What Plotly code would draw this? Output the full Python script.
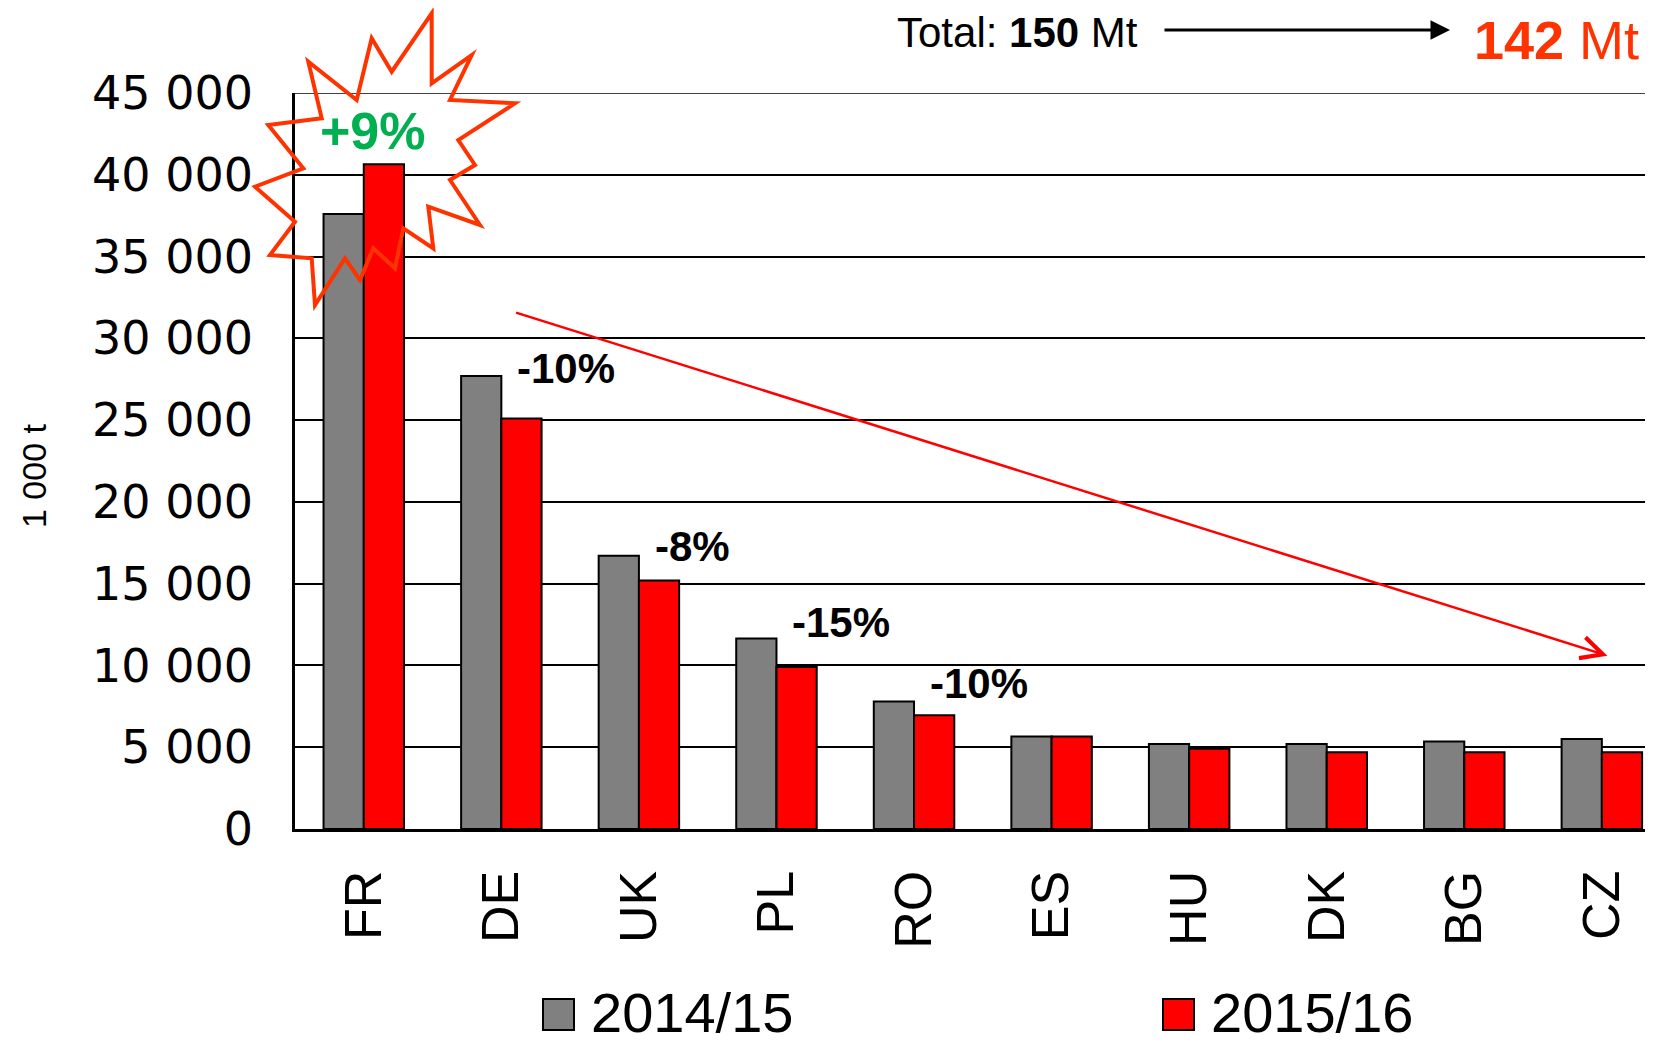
import plotly.graph_objects as go

# ---------------- data ----------------
countries = ["FR", "DE", "UK", "PL", "RO", "ES", "HU", "DK", "BG", "CZ"]
series_names = ["2014/15", "2015/16"]
values_2014 = [37600, 27700, 16700, 11650, 7800, 5650, 5200, 5200, 5350, 5500]
values_2015 = [40650, 25100, 15200, 9900, 6950, 5650, 4900, 4700, 4700, 4700]
y_tick_vals = [0, 5000, 10000, 15000, 20000, 25000, 30000, 35000, 40000, 45000]
y_tick_text = ["0", "5 000", "10 000", "15 000", "20 000", "25 000",
               "30 000", "35 000", "40 000", "45 000"]
change_countries = ["DE", "UK", "PL", "RO"]
change_labels = ["-10%", "-8%", "-15%", "-10%"]
fr_change_label = "+9%"
y_title = "1 000 t"
total_before = "150"
total_after = "142"

# ---------------- layout constants ----------------
W, H = 1653, 1046
OFF = 8  # page body margin
L, T = 295 - OFF, 93 - OFF
B = H - (829 - OFF)
R = 0
PW, PH = W - L - R, H - T - B

GRAY = "#808080"
RED = "#FF0000"
ORANGE = "#FF3300"
GREEN = "#00B050"
FONT = "Liberation Sans, Arial, sans-serif"

label_offsets = [450, 600, 1000, 1100]  # vertical gap of change labels above bars


def px2paper(px, py):
    """Convert screenshot pixel coordinates to paper coordinates."""
    return (px - OFF - L) / PW, (H - B - (py - OFF)) / PH


fig = go.Figure()
fig.add_trace(go.Bar(x=countries, y=values_2014, name=series_names[0],
                     marker=dict(color=GRAY, line=dict(color="black", width=2))))
fig.add_trace(go.Bar(x=countries, y=values_2015, name=series_names[1],
                     marker=dict(color=RED, line=dict(color="black", width=2))))

annotations = []
shapes = []

# top gridline at 45 000
shapes.append(dict(type="line", xref="paper", yref="y", x0=0, x1=1,
                   y0=y_tick_vals[-1], y1=y_tick_vals[-1],
                   line=dict(color="black", width=1.5), layer="below"))

# percent change labels
for c, lab, off in zip(change_countries, change_labels, label_offsets):
    i = countries.index(c)
    annotations.append(dict(x=i + 0.1, y=values_2014[i] + off, xref="x", yref="y",
                            text=f"<b>{lab}</b>", showarrow=False, xanchor="left",
                            yanchor="middle", font=dict(size=42, color="black", family=FONT)))

# starburst outline around FR (decoration, screenshot pixel outline)
burst_px = [(431.7, 13.3), (431.7, 83.3), (471.7, 55), (450, 100), (515, 103.3),
            (458.3, 140), (475, 165), (450, 180), (480, 225), (428.3, 206.7),
            (433.3, 248.3), (403.3, 228.3), (395, 268.3), (373.3, 248.3),
            (360, 280), (345, 258.3), (315, 305), (311.7, 258.3), (270, 255),
            (295, 221.7), (255, 186.7), (303.3, 168.3), (268.3, 125),
            (321.7, 118.3), (308.3, 61.7), (356.7, 100), (371.7, 38.3), (391.7, 71.7)]
pts = [px2paper(x, y) for x, y in burst_px]
path = "M " + " L ".join(f"{x:.5f},{y:.5f}" for x, y in pts) + " Z"
shapes.append(dict(type="path", xref="paper", yref="paper", path=path,
                   line=dict(color=ORANGE, width=4), fillcolor="rgba(0,0,0,0)", layer="above"))

fr = countries.index("FR")
annotations.append(dict(x=fr + 0.07, y=values_2015[fr] + 2000, xref="x", yref="y",
                        text=f"<b>{fr_change_label}</b>", showarrow=False,
                        xanchor="center", yanchor="middle",
                        font=dict(size=52, color=GREEN, family=FONT)))

# trend arrow
de = countries.index("DE")
cz = countries.index("CZ")
annotations.append(dict(x=cz + 0.04, y=10600, ax=de + 0.096, ay=31600,
                        xref="x", yref="y", axref="x", ayref="y", text="",
                        showarrow=True, arrowhead=5, arrowsize=1.7, arrowwidth=2.5,
                        arrowcolor=RED))

# header: Total
tx, ty = px2paper(1017, 33)
annotations.append(dict(x=tx, y=ty, xref="paper", yref="paper",
                        xanchor="center", yanchor="middle",
                        text=f"Total: <b>{total_before}</b> Mt", showarrow=False,
                        font=dict(size=42, color="black", family=FONT)))
hx, hy = px2paper(1450, 30)
annotations.append(dict(x=hx, y=hy, xref="paper", yref="paper", ax=-287, ay=0,
                        text="", showarrow=True, arrowhead=2, arrowsize=1.3,
                        arrowwidth=3, arrowcolor="black"))
rx, ry = px2paper(1472, 40)
annotations.append(dict(x=rx, y=ry, xref="paper", yref="paper",
                        xanchor="left", yanchor="middle",
                        text=f"<b>{total_after}</b> Mt", showarrow=False,
                        font=dict(size=54, color=ORANGE, family=FONT)))

# y title
yx, yy = px2paper(34, 476)
annotations.append(dict(x=yx, y=yy, xref="paper", yref="paper", text=y_title,
                        xanchor="center", yanchor="middle",
                        textangle=-90, showarrow=False,
                        font=dict(size=34, color="black", family=FONT)))

# custom legend
legend_items = [(543, GRAY, series_names[0]), (1163, RED, series_names[1])]
for x0, col, name in legend_items:
    a = px2paper(x0, 999)
    b = px2paper(x0 + 31, 1030)
    shapes.append(dict(type="rect", xref="paper", yref="paper", x0=a[0], x1=b[0],
                       y0=b[1], y1=a[1], fillcolor=col, line=dict(color="black", width=2)))
    lx, ly = px2paper(x0 + 46, 1012)
    annotations.append(dict(x=lx, y=ly, xref="paper", yref="paper",
                            xanchor="left", yanchor="middle",
                            text=name, showarrow=False,
                            font=dict(size=56, color="black", family=FONT)))

fig.update_layout(
    width=W, height=H,
    margin=dict(l=L, r=R, t=T, b=B, autoexpand=False),
    paper_bgcolor="white", plot_bgcolor="white",
    barmode="group", bargap=0.415, bargroupgap=0,
    showlegend=False,
    font=dict(family=FONT, color="black"),
    annotations=annotations, shapes=shapes,
    xaxis=dict(range=[-0.5, 9.43], tickangle=-90, showline=True, linecolor="black",
               linewidth=3, ticks="", tickfont=dict(size=52, family=FONT),
               ticklabelstandoff=18, showgrid=False, automargin=False),
    yaxis=dict(range=[0, 45000], tickvals=y_tick_vals, ticktext=y_tick_text,
               showgrid=True, gridcolor="black", gridwidth=1.5, showline=True,
               linecolor="black", linewidth=2.5, zeroline=False, ticks="",
               tickfont=dict(size=46, family="DejaVu Sans, Verdana, sans-serif"),
               ticklabelstandoff=30, automargin=False),
)

fig.write_html("out.html")
